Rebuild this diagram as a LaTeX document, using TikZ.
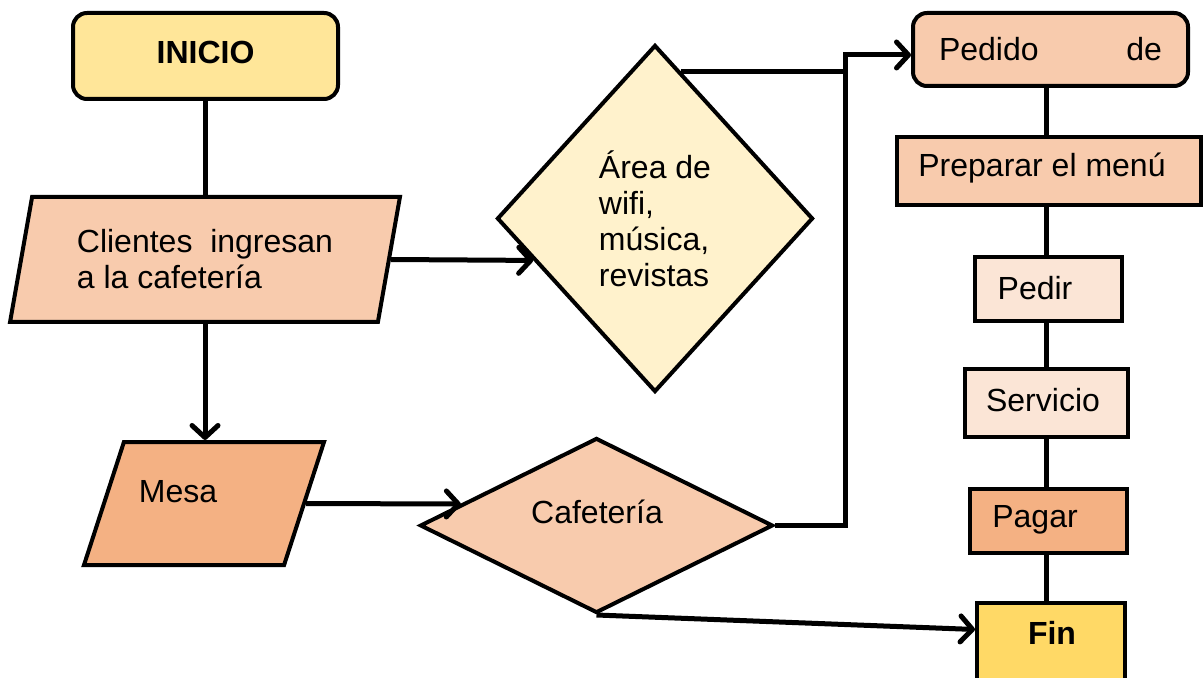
\documentclass[tikz,border=0pt]{standalone}
\usepackage{fontspec}
\setmainfont{Liberation Sans}
\usetikzlibrary{shapes.geometric,arrows.meta,calc}
\definecolor{cInicio}{HTML}{FFE699}
\definecolor{cSalmon}{HTML}{F8CBAD}
\definecolor{cOrange}{HTML}{F4B183}
\definecolor{cCream}{HTML}{FFF2CC}
\definecolor{cPale}{HTML}{FBE5D6}
\definecolor{cFin}{HTML}{FFD966}
\tikzset{
  box/.style={draw=black, line width=2pt, rectangle, inner sep=0pt},
  para/.style={draw=black, line width=2pt, trapezium, trapezium left angle=76, trapezium right angle=104, trapezium stretches=true, inner sep=2pt, align=left},
  dia/.style={draw=black, line width=2pt, diamond, inner sep=2pt, align=left},
  txt/.style={inner sep=0pt, align=left},
  conn/.style={line width=2.5pt, line join=miter},
  arr/.style={conn, -{Straight Barb[length=6pt,width=13pt,round]}}
}
\begin{document}
\begin{tikzpicture}[x=0.5pt, y=-0.5pt, font=\fontsize{16}{18}\selectfont]
\useasboundingbox (0,0) rectangle (1203,678);
% left column
\node[box, rounded corners=7pt, fill=cInicio, minimum width=132.5pt, minimum height=43pt] (inicio) at (205.5,56) {\raisebox{4pt}{\textbf{INICIO}}};
\node[para, fill=cSalmon, minimum width=195pt, minimum height=62.5pt] (clientes) at (205,259.5) {Clientes\ \ ingresan\\a la cafetería};
\node[para, fill=cOrange, minimum width=120pt, minimum height=61.5pt] (mesa) at (204,503.5) {};
\node[txt] (mesaT) at (178,492) {Mesa};
% diamonds
\node[dia, fill=cCream, minimum width=158pt, minimum height=173.5pt] (area) at (655,218.5) {Área de\\wifi,\\música,\\revistas};
\node[dia, fill=cSalmon, minimum width=176.5pt, minimum height=87.5pt] (caf) at (596.5,525.5) {};
\node[txt] (cafT) at (597,512) {Cafetería};
% right column
\node[box, rounded corners=7pt, fill=cSalmon, minimum width=137.5pt, minimum height=36.5pt] (pedido) at (1050.5,49.5) {\raisebox{1pt}{\makebox[111.5pt][s]{Pedido de}}};
\node[box, fill=cSalmon, minimum width=152pt, minimum height=34pt] (preparar) at (1049,171) {};
\node[txt] (prepararT) at (1042,168) {Preparar el menú};
\node[box, fill=cPale, minimum width=73.5pt, minimum height=32pt] (pedir) at (1048.5,289) {};
\node[txt] (pedirT) at (1035,288) {Pedir};
\node[box, fill=cPale, minimum width=81.5pt, minimum height=34pt] (servicio) at (1046.5,403) {};
\node[txt] (servicioT) at (1043,400) {Servicio};
\node[box, fill=cOrange, minimum width=78.5pt, minimum height=32pt] (pagar) at (1048.5,521) {};
\node[txt] (pagarT) at (1035,520) {Pagar};
\node[box, fill=cFin, minimum width=74pt, minimum height=38.5pt] (fin) at (1051,641.5) {};
\node[txt] (finT) at (1052,633) {\textbf{Fin}};
\coordinate (col) at (1046,0);
\coordinate (jtop) at (845,55);
% connectors left
\draw[conn] (inicio.south) -- (inicio.south |- clientes.north);
\draw[arr] (clientes.south) -- (clientes.south |- mesa.north);
\draw[arr] (clientes.east) -- (area.199);
\draw[arr] (mesa.east) -- (caf.171);
\draw[conn] (area.80) -- (area.80 -| jtop);
\draw[arr] (caf.east) -| (jtop) -- (jtop -| pedido.west);
\draw[arr] (caf.south) -- ($(fin.west)+(0,-12)$);
% connectors right column
\draw[conn] (pedido.south -| col) -- (preparar.north -| col);
\draw[conn] (preparar.south -| col) -- (pedir.north -| col);
\draw[conn] (pedir.south -| col) -- (servicio.north -| col);
\draw[conn] (servicio.south -| col) -- (pagar.north -| col);
\draw[conn] (pagar.south -| col) -- (fin.north -| col);
\end{tikzpicture}
\end{document}
